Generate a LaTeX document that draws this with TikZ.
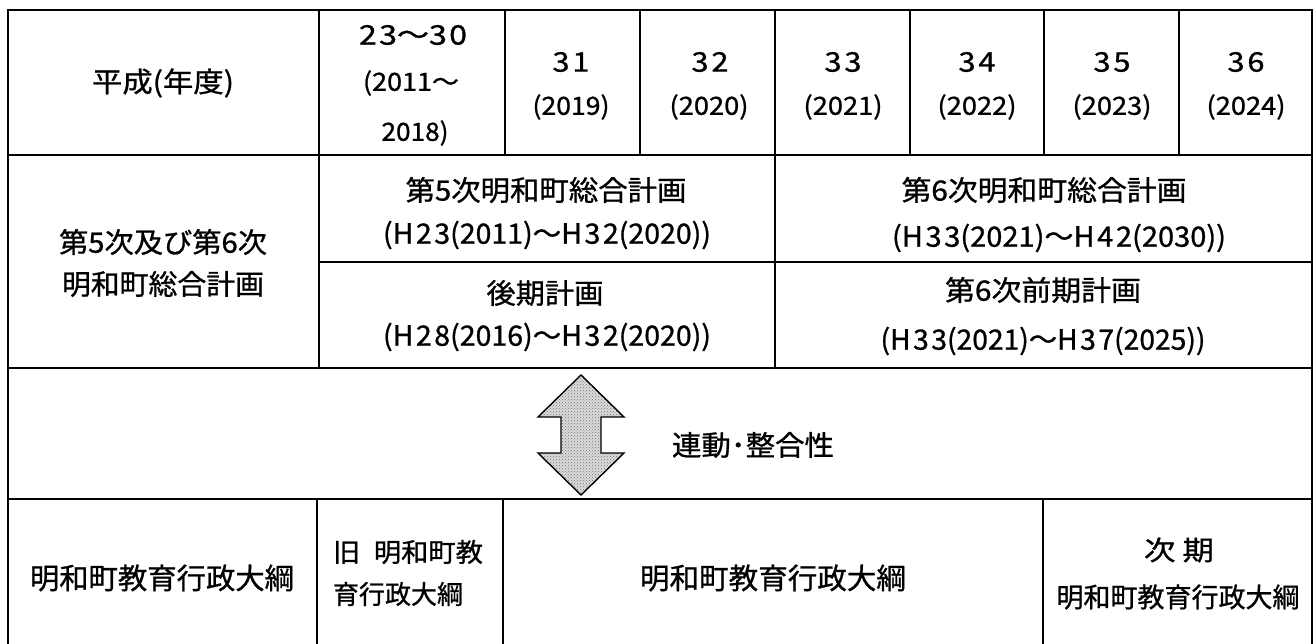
\documentclass[tikz,border=0pt]{standalone}
\usepackage{fontspec}
\setmainfont{Noto Sans CJK JP}[FakeBold=0.9]
\usepackage{graphicx}
\usetikzlibrary{patterns}
\newcommand\T[3]{\resizebox{#2pt}{\height}{\fontsize{#1pt}{#1pt}\selectfont #3}}
\newcommand\HN[3]{#1\kern2.5pt #2\kern2.5pt #3}
\tikzset{
  gridline/.style={line width=1.7pt, draw=black},
  cell/.style={inner sep=0pt, outer sep=0pt, anchor=center},
  bigarrow/.style={draw=black, line width=1.4pt, line join=miter}
}
\begin{document}
\begin{tikzpicture}[x=1pt,y=-1pt]
\useasboundingbox (0,0) rectangle (1315,644);
% ---- grid ----
\draw[gridline] (8,644) -- (8,10) -- (1312,10) -- (1312,644);
\draw[gridline] (8,155) -- (1312,155);
\draw[gridline] (8,368) -- (1312,368);
\draw[gridline] (8,499) -- (1312,499);
\draw[gridline] (319,262) -- (1312,262);
\foreach \x in {319,505,640,775,910,1044,1179} \draw[gridline] (\x,10) -- (\x,155);
\draw[gridline] (319,155) -- (319,368);
\draw[gridline] (775,155) -- (775,368);
\foreach \x in {317,503,1043} \draw[gridline] (\x,499) -- (\x,644);
% ---- header row ----
\node[cell] (hdr) at (163,83) {\T{28}{142}{平成(年度)}};
\node[cell] (y0a) at (413,35) {\T{27}{108}{2\kern2pt 3～3\kern2pt 0}};
\node[cell] (y0b) at (411,83) {\T{25}{96}{(2011～}};
\node[cell] (y0c) at (415,133) {\T{25}{67}{2018)}};
\node[cell] (y1a) at (571,62) {\T{27}{37}{3\kern2.5pt 1}};
\node[cell] (y1b) at (571,107) {\T{25}{77}{(2019)}};
\node[cell] (y2a) at (710,62) {\T{27}{37}{3\kern2.5pt 2}};
\node[cell] (y2b) at (709,107) {\T{25}{79}{(2020)}};
\node[cell] (y3a) at (843,62) {\T{27}{37}{3\kern2.5pt 3}};
\node[cell] (y3b) at (843,107) {\T{25}{79}{(2021)}};
\node[cell] (y4a) at (977,62) {\T{27}{37}{3\kern2.5pt 4}};
\node[cell] (y4b) at (977,107) {\T{25}{79}{(2022)}};
\node[cell] (y5a) at (1112,62) {\T{27}{37}{3\kern2.5pt 5}};
\node[cell] (y5b) at (1112,107) {\T{25}{79}{(2023)}};
\node[cell] (y6a) at (1246,62) {\T{27}{37}{3\kern2.5pt 6}};
\node[cell] (y6b) at (1246,107) {\T{25}{79}{(2024)}};
% ---- plan rows ----
\node[cell] (pl1) at (163,242) {\T{28}{208}{第5次及び第6次}};
\node[cell] (pl2) at (163,284) {\T{28}{202}{明和町総合計画}};
\node[cell] (p5a) at (546,190) {\T{28}{281}{第5次明和町総合計画}};
\node[cell] (p5b) at (547,235) {\T{28}{328}{(\HN H23(2011)～\HN H32(2020))}};
\node[cell] (p5c) at (545,293) {\T{28}{117}{後期計画}};
\node[cell] (p5d) at (547,337) {\T{28}{328}{(\HN H28(2016)～\HN H32(2020))}};
\node[cell] (p6a) at (1044,190) {\T{28}{285}{第6次明和町総合計画}};
\node[cell] (p6b) at (1059,238) {\T{28}{334}{(\HN H33(2021)～\HN H42(2030))}};
\node[cell] (p6c) at (1043,290) {\T{28}{196}{第6次前期計画}};
\node[cell] (p6d) at (1043,341) {\T{28}{325}{(\HN H33(2021)～\HN H37(2025))}};
% ---- arrow row ----
\path[fill=black!14] (581,375) -- (624,417) -- (601,417) -- (601,453) -- (624,453)
  -- (581,495) -- (538,453) -- (561,453) -- (561,417) -- (538,417) -- cycle;
\path[pattern=crosshatch dots, pattern color=black!55] (581,375) -- (624,417) -- (601,417) -- (601,453) -- (624,453)
  -- (581,495) -- (538,453) -- (561,453) -- (561,417) -- (538,417) -- cycle;
\draw[bigarrow] (581,375) -- (624,417) -- (601,417) -- (601,453) -- (624,453)
  -- (581,495) -- (538,453) -- (561,453) -- (561,417) -- (538,417) -- cycle;
\node[cell] (link) at (753,445) {\T{28}{162}{連動･整合性}};
% ---- bottom row ----
\node[cell] (e0) at (162,578) {\T{29}{264}{明和町教育行政大綱}};
\node[cell, anchor=west] (e1a) at (333,552) {\T{26}{150}{旧\enspace 明和町教}};
\node[cell, anchor=west] (e1b) at (333,594) {\T{26}{130}{育行政大綱}};
\node[cell] (e2) at (773,578) {\T{29}{266}{明和町教育行政大綱}};
\node[cell] (e3a) at (1179,550) {\T{27}{70}{次 期}};
\node[cell] (e3b) at (1178,597) {\T{27}{243}{明和町教育行政大綱}};
\end{tikzpicture}
\end{document}
